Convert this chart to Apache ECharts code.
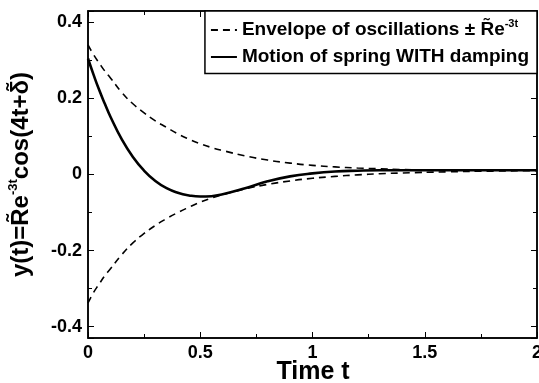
<!DOCTYPE html>
<html>
<head>
<meta charset="utf-8">
<script src="https://cdn.jsdelivr.net/npm/echarts@6/dist/echarts.min.js"></script>
<style>
  html, body { margin: 0; padding: 0; background: #fff; }
  #chart { width: 539px; height: 383px; }
</style>
</head>
<body>
<div id="chart"></div>
<script>
// time samples
const times = [0, 0.025, 0.05, 0.075, 0.1, 0.15, 0.2, 0.25, 0.3, 0.35, 0.4, 0.45, 0.5,
  0.55, 0.6, 0.7, 0.8, 0.9, 1.0, 1.1, 1.2, 1.3, 1.4, 1.6, 1.8, 2.0];
const envelopeUpper = [0.341, 0.315, 0.293, 0.272, 0.254, 0.216, 0.186, 0.162, 0.141, 0.124,
  0.107, 0.093, 0.081, 0.071, 0.063, 0.049, 0.038, 0.03, 0.024, 0.02, 0.017, 0.015, 0.013,
  0.012, 0.011, 0.011];
const envelopeLower = [-0.338, -0.31, -0.288, -0.266, -0.248, -0.211, -0.18, -0.155, -0.134,
  -0.116, -0.1, -0.086, -0.073, -0.062, -0.053, -0.038, -0.026, -0.017, -0.01, -0.005,
  -0.001, 0.002, 0.004, 0.007, 0.009, 0.01];
const motion = [0.305, 0.262, 0.222, 0.186, 0.152, 0.093, 0.046, 0.01, -0.017, -0.036,
  -0.048, -0.055, -0.058, -0.057, -0.052, -0.036, -0.018, -0.005, 0.003, 0.008, 0.01,
  0.011, 0.011, 0.011, 0.011, 0.011];
const xTicks = [0, 0.5, 1, 1.5, 2];
const yTicks = [-0.4, -0.2, 0, 0.2, 0.4];

const envName = "Envelope of oscillations";
const motionName = "Motion of spring WITH damping";

const pair = (ys) => times.map((t, i) => [t, ys[i]]);
const font = "Liberation Sans, Arial, sans-serif";

const chart = echarts.init(document.getElementById("chart"));

const tickLabel = (v, list) => {
  const hit = list.find((t) => Math.abs(t - v) < 1e-6);
  return hit === undefined ? "" : String(hit);
};

const frameAxis = {
  axisLine: { onZero: false, lineStyle: { color: "#000", width: 1.5 } },
  axisTick: { inside: true, length: 6, lineStyle: { color: "#000" } },
  minorTick: { show: true, splitNumber: 2, length: 4, lineStyle: { color: "#000" } },
  splitLine: { show: false },
};

const option = {
  animation: false,
  textStyle: { fontFamily: font },
  // x-axis title placed as a chart title under the tick labels
  title: {
    text: "Time t",
    left: 313, top: 360, textAlign: "center",
    padding: 0,
    textStyle: { fontSize: 25, fontWeight: "bold", color: "#000", fontFamily: font },
  },
  grid: {
    left: 88, right: 2, top: 11, bottom: 45,
    outerBoundsMode: "none",
    show: true, borderColor: "#000", borderWidth: 1.5,
  },
  legend: {
    orient: "vertical",
    right: 2, top: 11,
    padding: [7, 8, 7, 5],
    itemGap: 8,
    itemWidth: 26, itemHeight: 14,
    borderColor: "#000", borderWidth: 1.5,
    backgroundColor: "#fff",
    itemStyle: { opacity: 0 },
    data: [envName, motionName],
    formatter: (name) =>
      name === envName
        ? "{a|" + envName + " \u00b1 R\u0303e}{s|-3t}"
        : "{a|" + motionName + "}",
    textStyle: {
      rich: {
        a: { fontSize: 19, fontWeight: "bold", fontFamily: font, color: "#000", lineHeight: 24 },
        s: { fontSize: 11, fontWeight: "bold", fontFamily: font, color: "#000", verticalAlign: "top", lineHeight: 24 },
      },
    },
  },
  xAxis: [
    {
      type: "value", min: 0, max: 2, interval: 0.5, ...frameAxis,
      axisLabel: {
        fontSize: 18, fontWeight: "bold", color: "#000", margin: 6,
        formatter: (v) => tickLabel(v, xTicks),
      },
    },
    {
      type: "value", min: 0, max: 2, interval: 0.5, position: "top", ...frameAxis,
      axisLabel: { show: false },
    },
  ],
  yAxis: [
    {
      type: "value", min: -0.43, max: 0.43, splitNumber: 4, ...frameAxis,
      name: "{a|y(t)=R\u0303e}{s|-3t}{a|cos(4t+\u03b4\u0303)}",
      nameLocation: "middle", nameRotate: 90, nameGap: 53,
      nameTextStyle: {
        rich: {
          a: { fontSize: 24, fontWeight: "bold", fontFamily: font, color: "#000", lineHeight: 28 },
          s: { fontSize: 13, fontWeight: "bold", fontFamily: font, color: "#000", verticalAlign: "top", lineHeight: 28 },
        },
      },
      axisLabel: {
        fontSize: 18, fontWeight: "bold", color: "#000", margin: 6,
        showMinLabel: false, showMaxLabel: false,
        formatter: (v) => tickLabel(v, yTicks),
      },
    },
    {
      type: "value", min: -0.43, max: 0.43, splitNumber: 4, position: "right", ...frameAxis,
      axisLabel: { show: false },
    },
  ],
  series: [
    {
      name: envName, type: "line", smooth: true, symbol: "none",
      data: pair(envelopeUpper),
      lineStyle: { color: "#000", width: 1.6, type: [7, 5] },
      itemStyle: { color: "#000" },
    },
    {
      name: envName, type: "line", smooth: true, symbol: "none",
      data: pair(envelopeLower),
      lineStyle: { color: "#000", width: 1.6, type: [7, 5] },
      itemStyle: { color: "#000" },
    },
    {
      name: motionName, type: "line", smooth: true, symbol: "none",
      data: pair(motion),
      lineStyle: { color: "#000", width: 2.6 },
      itemStyle: { color: "#000" },
    },
  ],
};

chart.setOption(option);
</script>
</body>
</html>
